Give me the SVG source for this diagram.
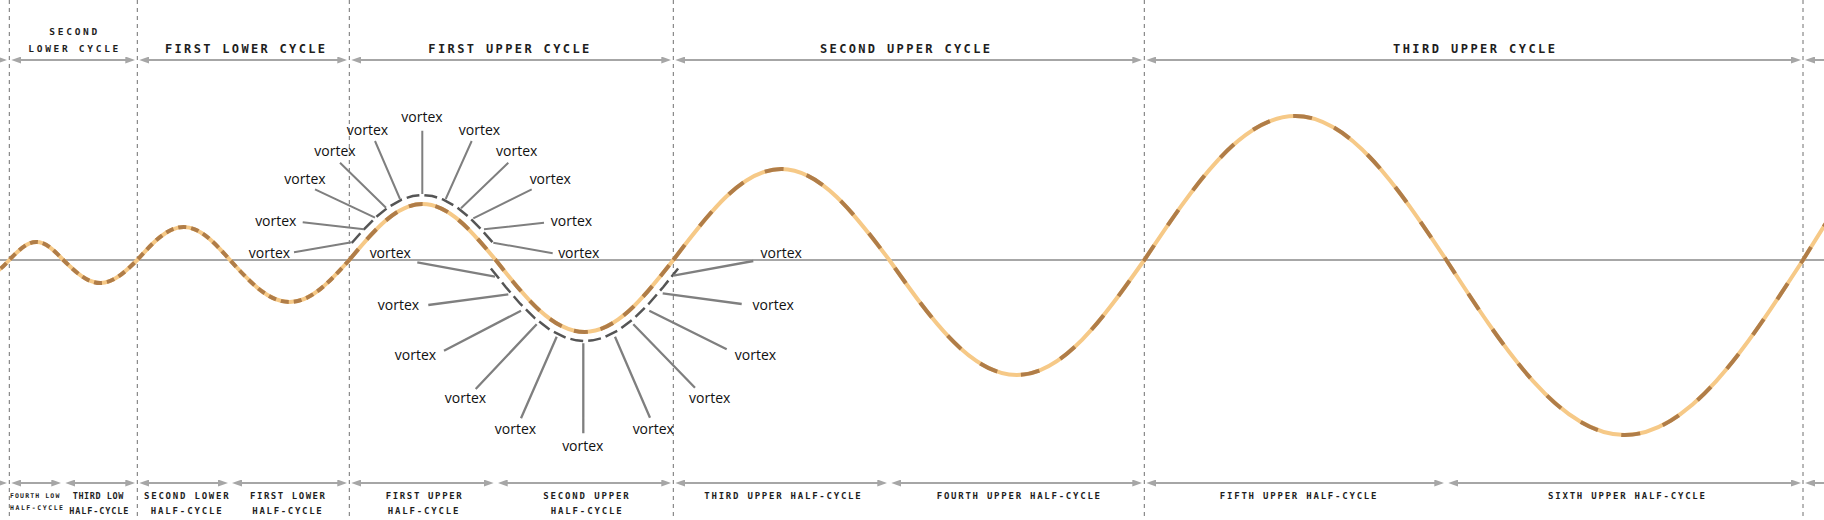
<svg xmlns="http://www.w3.org/2000/svg" width="1824" height="520" viewBox="0 0 1824 520">
<style>
.vl{stroke:#707070;stroke-width:1;stroke-dasharray:4 4;fill:none}
.axis{stroke:#8a8a8a;stroke-width:1.5;fill:none}
.arr{stroke:#a6a6a6;stroke-width:2;fill:none}
.wbase{stroke:#f6c987;stroke-width:4;fill:none}
.wdash{stroke:#b07d48;stroke-width:4;fill:none}
.dA{stroke-dasharray:8 5}
.dB{stroke-dasharray:14 13}
.dC{stroke-dasharray:19 24}
.arc{stroke:#555;stroke-width:2.5;fill:none;stroke-dasharray:13 5}
.lead{stroke:#7f7f7f;stroke-width:2;fill:none}
.cyc{font-family:"DejaVu Sans Mono","Liberation Mono",monospace;font-weight:bold;fill:#1e1e1e}
.vx{font-family:"Open Sans","Noto Sans",sans-serif;font-size:14px;fill:#111;text-anchor:middle}
</style>
<defs>
<marker id="ah" viewBox="0 0 10 7" refX="7" refY="3.5" markerWidth="10" markerHeight="7" markerUnits="userSpaceOnUse" orient="auto-start-reverse">
<path d="M0,0 L10,3.5 L0,7 z" fill="#a6a6a6"/>
</marker>
<path id="wA" d="M-32,260 C-25.27,267.17 -18.82,274 -11.35,274 C-3.88,274 2.57,267.17 9.3,260 C18.10,250.78 26.53,242 36.3,242 C46.07,242 54.50,250.78 63.3,260 C75.37,271.78 86.91,283 100.3,283 C113.69,283 125.23,271.78 137.3,260 C152.41,243.09 166.88,227 183.65,227 C200.42,227 214.89,243.09 230,260 C249.45,281.52 268.06,302 289.65,302 C311.24,302 329.85,281.52 349.3,260"/>
<path id="wB" d="M349.3,260 C373.17,231.31 396.01,204 422.5,204 C448.99,204 471.83,231.31 495.7,260 C524.66,296.89 552.36,332 584.5,332 C616.64,332 644.34,296.89 673.3,260"/>
<path id="wC" d="M673.3,260 C708.52,213.38 742.21,169 781.3,169 C820.39,169 854.08,213.38 889.3,260 C930.88,318.91 970.66,375 1016.8,375 C1062.94,375 1102.72,318.91 1144.3,260 C1193.54,186.23 1240.65,116 1295.3,116 C1349.95,116 1397.06,186.23 1446.3,260 C1504.46,349.65 1560.11,435 1624.65,435 C1689.19,435 1744.84,349.65 1803,260 C1870.99,149.86 1936.04,45 2011.5,45"/>
</defs>
<rect width="1824" height="520" fill="#fff"/>

<g id="dividers">
<path class="vl" d="M9.3,0V520M137.3,0V520M349.3,0V520M673.3,0V520M1144.3,0V520M1803,0V520"/>
</g>
<g id="axis"><path class="axis" d="M0,260H1824"/></g>

<g id="connectors">
<g id="cycle-arrows">
<path class="arr" marker-end="url(#ah)" d="M0,60H4.3"/>
<path class="arr" marker-start="url(#ah)" marker-end="url(#ah)" d="M14.3,60H132.3"/>
<path class="arr" marker-start="url(#ah)" marker-end="url(#ah)" d="M142.3,60H344.3"/>
<path class="arr" marker-start="url(#ah)" marker-end="url(#ah)" d="M354.3,60H668.3"/>
<path class="arr" marker-start="url(#ah)" marker-end="url(#ah)" d="M678.3,60H1139.3"/>
<path class="arr" marker-start="url(#ah)" marker-end="url(#ah)" d="M1149.3,60H1798"/>
<path class="arr" marker-start="url(#ah)" d="M1808,60H1824"/>
</g>
<g id="half-cycle-arrows">
<path class="arr" marker-end="url(#ah)" d="M0,483H4.3"/>
<path class="arr" marker-start="url(#ah)" marker-end="url(#ah)" d="M14.3,483H58.3"/>
<path class="arr" marker-start="url(#ah)" marker-end="url(#ah)" d="M68.3,483H132.3"/>
<path class="arr" marker-start="url(#ah)" marker-end="url(#ah)" d="M142.3,483H225"/>
<path class="arr" marker-start="url(#ah)" marker-end="url(#ah)" d="M235,483H344.3"/>
<path class="arr" marker-start="url(#ah)" marker-end="url(#ah)" d="M354.3,483H490.7"/>
<path class="arr" marker-start="url(#ah)" marker-end="url(#ah)" d="M500.7,483H668.3"/>
<path class="arr" marker-start="url(#ah)" marker-end="url(#ah)" d="M678.3,483H884.3"/>
<path class="arr" marker-start="url(#ah)" marker-end="url(#ah)" d="M894.3,483H1139.3"/>
<path class="arr" marker-start="url(#ah)" marker-end="url(#ah)" d="M1149.3,483H1441.3"/>
<path class="arr" marker-start="url(#ah)" marker-end="url(#ah)" d="M1451.3,483H1798"/>
<path class="arr" marker-start="url(#ah)" d="M1808,483H1824"/>
</g>
</g>

<g id="wave">
<use href="#wA" class="wbase"/>
<use href="#wB" class="wbase"/>
<use href="#wC" class="wbase"/>
<use href="#wA" class="wdash dA"/>
<use href="#wB" class="wdash dB"/>
<use href="#wC" class="wdash dC"/>
</g>

<g id="vortex-arcs">
<path class="arc" d="M351.76,243 L363.66,229.53 L375.83,217.29 L388.41,207.07 L401.63,199.56 L412.74,196 L422.5,195 L432.26,196 L443.37,199.56 L456.59,207.07 L469.17,217.29 L481.34,229.53 L493.24,243"/>
<path class="arc" d="M490.88,268.44 L505.71,286.99 L520.17,303.73 L534.95,318.38 L550.24,330.05 L566.29,337.9 L576.3,340.37 L584.5,341 L592.7,340.37 L602.71,337.9 L618.76,330.05 L634.05,318.38 L648.83,303.73 L663.29,286.99 L678.12,268.44"/>
</g>

<g id="leaders">
<path class="lead" d="M294,252.3L351.7,242.3M302.7,222.3L364,229.3M315,189.3L375,217.7M340,162.7L386,207.7M375,141L400,199M422.3,130.7L422.3,194M471.7,141L445.7,199M508.3,162.7L461,208.3M531.7,189.3L473.3,218.3M544,222.7L484,229.3M552.7,253.3L493.3,242.7"/>
<path class="lead" style="stroke-width:2.3" d="M417.3,262.3L495,276.7M428.3,305L508.3,294.3M444,350.7L521,310.7M475.7,389L536.7,324.3M521,418.3L556.7,336.7M583.3,433.3L583.3,343.3M650,417.7L615,336.7M695,387.7L633.3,324.3M726.7,349.3L649.3,310.7M741.7,304L662.7,293.3M753.3,261L673.3,275.7"/>
</g>

<g id="vortex-upper">
<g id="vu1"><text class="vx" x="269.5" y="258">vortex</text></g>
<g id="vu2"><text class="vx" x="275.8" y="225.5">vortex</text></g>
<g id="vu3"><text class="vx" x="305" y="183.5">vortex</text></g>
<g id="vu4"><text class="vx" x="335" y="156">vortex</text></g>
<g id="vu5"><text class="vx" x="367.5" y="134.5">vortex</text></g>
<g id="vu6"><text class="vx" x="422" y="122">vortex</text></g>
<g id="vu7"><text class="vx" x="479.5" y="134.5">vortex</text></g>
<g id="vu8"><text class="vx" x="516.7" y="156">vortex</text></g>
<g id="vu9"><text class="vx" x="550.3" y="183.5">vortex</text></g>
<g id="vu10"><text class="vx" x="571.5" y="225.5">vortex</text></g>
<g id="vu11"><text class="vx" x="578.8" y="258">vortex</text></g>
</g>
<g id="vortex-lower">
<g id="vl1"><text class="vx" x="390.3" y="258">vortex</text></g>
<g id="vl2"><text class="vx" x="398.5" y="310">vortex</text></g>
<g id="vl3"><text class="vx" x="415.5" y="360">vortex</text></g>
<g id="vl4"><text class="vx" x="465.5" y="403">vortex</text></g>
<g id="vl5"><text class="vx" x="515.5" y="434">vortex</text></g>
<g id="vl6"><text class="vx" x="582.8" y="451">vortex</text></g>
<g id="vl7"><text class="vx" x="653.3" y="434">vortex</text></g>
<g id="vl8"><text class="vx" x="709.7" y="403">vortex</text></g>
<g id="vl9"><text class="vx" x="755.5" y="360">vortex</text></g>
<g id="vl10"><text class="vx" x="773.2" y="310">vortex</text></g>
<g id="vl11"><text class="vx" x="781.2" y="258">vortex</text></g>
</g>

<g id="cycle-labels" class="cyc">
<g id="lbl-second-lower"><text x="49.3" y="34.7" font-size="9.5" textLength="48" lengthAdjust="spacing">SECOND</text><text x="28.3" y="52" font-size="9.5" textLength="90" lengthAdjust="spacing">LOWER CYCLE</text></g>
<g id="lbl-first-lower"><text x="165" y="53.3" font-size="12" textLength="160" lengthAdjust="spacing">FIRST LOWER CYCLE</text></g>
<g id="lbl-first-upper"><text x="428.3" y="53.3" font-size="12" textLength="161" lengthAdjust="spacing">FIRST UPPER CYCLE</text></g>
<g id="lbl-second-upper"><text x="820" y="53.3" font-size="12" textLength="170" lengthAdjust="spacing">SECOND UPPER CYCLE</text></g>
<g id="lbl-third-upper"><text x="1393" y="53.3" font-size="12" textLength="162" lengthAdjust="spacing">THIRD UPPER CYCLE</text></g>
</g>

<g id="half-cycle-labels" class="cyc">
<g id="h-fourth-low"><text x="10" y="497.7" font-size="6.5" textLength="49.3" lengthAdjust="spacing">FOURTH LOW</text><text x="10" y="509.5" font-size="6.5" textLength="53" lengthAdjust="spacing">HALF-CYCLE</text></g>
<g id="h-third-low"><text x="72.7" y="499" font-size="8.5" textLength="50.6" lengthAdjust="spacing">THIRD LOW</text><text x="69.3" y="514" font-size="8.5" textLength="59" lengthAdjust="spacing">HALF-CYCLE</text></g>
<g id="h-second-lower"><text x="144" y="499" font-size="9" textLength="84.7" lengthAdjust="spacing">SECOND LOWER</text><text x="150.7" y="514" font-size="9" textLength="71" lengthAdjust="spacing">HALF-CYCLE</text></g>
<g id="h-first-lower"><text x="250" y="499" font-size="9" textLength="75" lengthAdjust="spacing">FIRST LOWER</text><text x="252.3" y="514" font-size="9" textLength="69.4" lengthAdjust="spacing">HALF-CYCLE</text></g>
<g id="h-first-upper"><text x="385.7" y="499" font-size="9" textLength="76" lengthAdjust="spacing">FIRST UPPER</text><text x="387.7" y="514" font-size="9" textLength="70.6" lengthAdjust="spacing">HALF-CYCLE</text></g>
<g id="h-second-upper"><text x="543.3" y="499" font-size="9" textLength="85.3" lengthAdjust="spacing">SECOND UPPER</text><text x="550.7" y="514" font-size="9" textLength="71" lengthAdjust="spacing">HALF-CYCLE</text></g>
<g id="h-third-upper"><text x="704.3" y="499.3" font-size="9" textLength="156.4" lengthAdjust="spacing">THIRD UPPER HALF-CYCLE</text></g>
<g id="h-fourth-upper"><text x="936.7" y="499.3" font-size="9" textLength="163.3" lengthAdjust="spacing">FOURTH UPPER HALF-CYCLE</text></g>
<g id="h-fifth-upper"><text x="1219.8" y="499.3" font-size="9" textLength="156.7" lengthAdjust="spacing">FIFTH UPPER HALF-CYCLE</text></g>
<g id="h-sixth-upper"><text x="1548" y="499.3" font-size="9" textLength="157" lengthAdjust="spacing">SIXTH UPPER HALF-CYCLE</text></g>
</g>
</svg>
